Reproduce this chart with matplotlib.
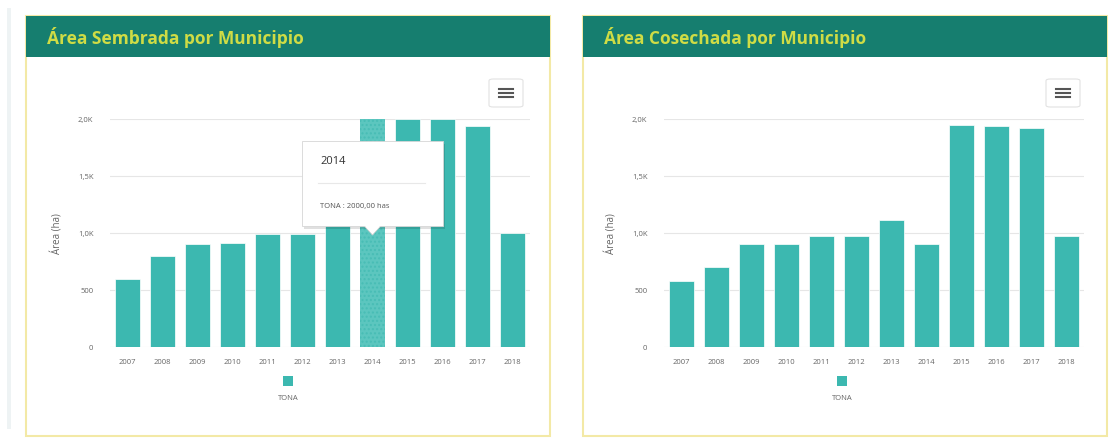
import matplotlib.pyplot as plt
from matplotlib.patches import Rectangle, FancyBboxPatch, Polygon
from matplotlib.ticker import FuncFormatter

plt.rcParams['font.family'] = ['Open Sans', 'DejaVu Sans']

years = ['2007', '2008', '2009', '2010', '2011', '2012',
         '2013', '2014', '2015', '2016', '2017', '2018']
sembrada = [600, 800, 900, 910, 990, 990, 1200, 2000, 2000, 2000, 1940, 1000]
cosechada = [580, 700, 900, 900, 970, 970, 1110, 900, 1950, 1940, 1925, 975]
titles = ['Área Sembrada por Municipio', 'Área Cosechada por Municipio']
serie = 'TONA'
hover_idx = 7  # 2014 highlighted in the left chart

W, H = 1119, 439
BAR = '#3cb8b0'
HEADER = '#167e6f'
TITLE_C = '#cfdc45'
BORDER = '#f3e9a6'
TXT = '#666666'

fig = plt.figure(figsize=(W / 100, H / 100), dpi=100)
fig.patch.set_facecolor('white')


def px(x0, y0, x1, y1):
    # pixel box (top-left origin) -> figure fraction rect
    return [x0 / W, 1 - y1 / H, (x1 - x0) / W, (y1 - y0) / H]


def kfmt(v, _):
    if v >= 1000:
        return f'{v / 1000:.1f}K'.replace('.', ',')
    return f'{int(v)}'


# faint strip on the far left
fig.add_artist(Rectangle((7 / W, 0.02), 4 / W, 0.96, transform=fig.transFigure,
                         facecolor='#eef3f4', edgecolor='none', zorder=0))


def panel(left, plot_l, plot_r, values, title, hover=None):
    # card frame and header
    fig.add_artist(Rectangle((left / W, 1 - 437 / H), 524 / W, 420 / H,
                             transform=fig.transFigure, facecolor='white',
                             edgecolor=BORDER, lw=1.5, zorder=0))
    fig.add_artist(Rectangle((left / W, 1 - 58 / H), 524 / W, 41 / H,
                             transform=fig.transFigure, facecolor=HEADER,
                             edgecolor='none', zorder=0.5))
    fig.text((left + 21) / W, 1 - 38 / H, title, color=TITLE_C, fontsize=12.5,
             fontweight='bold', va='center', ha='left')

    # menu button
    bx = left + 463
    fig.add_artist(FancyBboxPatch((bx / W, 1 - 108 / H), 34 / W, 28 / H,
                                  boxstyle='round,pad=0,rounding_size=0.004',
                                  transform=fig.transFigure, facecolor='white',
                                  edgecolor='#e2e2e2', lw=0.8))
    for dy in (90, 94, 98):
        fig.add_artist(plt.Line2D([(bx + 10) / W, (bx + 24) / W],
                                  [1 - dy / H, 1 - dy / H],
                                  transform=fig.transFigure, color='#555555', lw=1.5))

    ax = fig.add_axes(px(plot_l, 120, plot_r, 348))
    ax.set_zorder(2)
    ax.patch.set_alpha(0)
    x = range(len(values))
    bars = ax.bar(x, values, width=0.69, color=BAR, edgecolor='white', lw=0.5)
    if hover is not None:
        bars[hover].set_facecolor('#5cc6bf')
        bars[hover].set_hatch('....')
        bars[hover].set_edgecolor('#48bdb5')
        bars[hover].set_linewidth(0)
    ax.set_xlim(-0.5, len(values) - 0.5)
    ax.set_ylim(0, 2000)
    ax.set_yticks([0, 500, 1000, 1500, 2000])
    ax.yaxis.set_major_formatter(FuncFormatter(kfmt))
    ax.set_xticks(list(x))
    ax.set_xticklabels(years)
    ax.grid(axis='y', color='#e6e6e6', lw=0.8)
    ax.set_axisbelow(True)
    for s in ax.spines.values():
        s.set_visible(False)
    ax.tick_params(length=0, labelsize=5.5, colors=TXT, pad=8)
    ax.tick_params(axis='y', pad=12)
    ax.set_ylabel('Área (ha)', color=TXT, fontsize=7, labelpad=10)

    # legend
    cx = plot_l + 178
    fig.add_artist(Rectangle(((cx - 5) / W, 1 - 387 / H), 10 / W, 10 / H,
                             transform=fig.transFigure, facecolor=BAR,
                             edgecolor='none'))
    fig.text(cx / W, 1 - 399 / H, serie, color=TXT, fontsize=5.5,
             ha='center', va='center')
    return ax


ax1 = panel(26, 110, 530, sembrada, titles[0], hover=hover_idx)
ax2 = panel(583, 664, 1084, cosechada, titles[1])

# tooltip for the hovered bar, anchored on the bar centre
bar_x = ax1.transData.transform((hover_idx, 0))[0]
cx = fig.transFigure.inverted().transform((bar_x, 0))[0] * W
tl, tr, tt, tb = cx - 70, cx + 71, 142, 227
shadow = Rectangle(((tl + 2) / W, 1 - (tb + 3) / H), (tr - tl) / W, (tb - tt) / H,
                   transform=fig.transFigure, facecolor='#000000', alpha=0.12,
                   edgecolor='none', zorder=9)
fig.add_artist(shadow)
fig.add_artist(Polygon([((cx - 9) / W, 1 - (tb - 1) / H), ((cx + 9) / W, 1 - (tb - 1) / H),
                        (cx / W, 1 - (tb + 9) / H)], closed=True,
                       transform=fig.transFigure, facecolor='white',
                       edgecolor='#d0d0d0', lw=0.6, zorder=10))
fig.add_artist(Rectangle((tl / W, 1 - tb / H), (tr - tl) / W, (tb - tt) / H,
                         transform=fig.transFigure, facecolor='white',
                         edgecolor='#d6d6d6', lw=0.6, zorder=10))
fig.add_artist(Polygon([((cx - 8) / W, 1 - (tb - 0.5) / H), ((cx + 8) / W, 1 - (tb - 0.5) / H),
                        (cx / W, 1 - (tb + 8) / H)], closed=True,
                       transform=fig.transFigure, facecolor='white',
                       edgecolor='none', zorder=11))
fig.text((tl + 18) / W, 1 - 162 / H, years[hover_idx], color='#333333',
         fontsize=8, va='center', zorder=12)
fig.add_artist(plt.Line2D([(tl + 16) / W, (tr - 18) / W], [1 - 184 / H, 1 - 184 / H],
                          transform=fig.transFigure, color='#e8e8e8', lw=0.8, zorder=12))
val = f'{sembrada[hover_idx]:.2f}'.replace('.', ',')
fig.text((tl + 18) / W, 1 - 207 / H, f'{serie} : {val} has', color='#555555',
         fontsize=5.5, va='center', zorder=12)

fig.savefig('out.png', dpi=100)
